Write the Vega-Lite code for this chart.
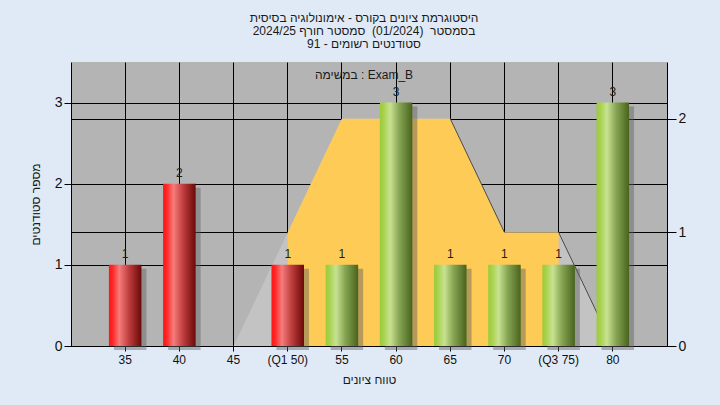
{
  "$schema": "https://vega.github.io/schema/vega-lite/v6.json",
  "width": 596,
  "height": 284,
  "autosize": {"type": "none"},
  "padding": {"left": 71, "top": 62, "right": 53, "bottom": 59},
  "background": "#E0EAF7",
  "title": {
    "text": ["היסטוגרמת ציונים בקורס - אימונולוגיה בסיסית", "בסמסטר\u00a0 (01/2024)\u00a0 סמסטר חורף 2024/25", "סטודנטים רשומים - 91"],
    "subtitle": "במשימה : Exam_B",
    "anchor": "middle",
    "frame": "group",
    "font": "Liberation Sans, DejaVu Sans",
    "fontSize": 12,
    "fontWeight": "normal",
    "lineHeight": 13,
    "color": "#1a1a1a",
    "subtitleFont": "Liberation Sans, DejaVu Sans",
    "subtitleFontSize": 12,
    "subtitleColor": "#1a1a1a",
    "subtitlePadding": 19,
    "offset": -20,
    "dx": -5
  },
  "datasets": {
    "bars": [
      {"label": "35", "count": 1, "grp": "fail"},
      {"label": "40", "count": 2, "grp": "fail"},
      {"label": "45", "count": 0, "grp": "none"},
      {"label": "(Q1 50)", "count": 1, "grp": "fail"},
      {"label": "55", "count": 1, "grp": "pass"},
      {"label": "60", "count": 3, "grp": "pass"},
      {"label": "65", "count": 1, "grp": "pass"},
      {"label": "70", "count": 1, "grp": "pass"},
      {"label": "(Q3 75)", "count": 1, "grp": "pass"},
      {"label": "80", "count": 3, "grp": "pass"}
    ],
    "dist": [
      {"label": "45", "v": 0, "iqr": false},
      {"label": "(Q1 50)", "v": 1, "iqr": true},
      {"label": "55", "v": 2, "iqr": true},
      {"label": "60", "v": 2, "iqr": true},
      {"label": "65", "v": 2, "iqr": true},
      {"label": "70", "v": 1, "iqr": true},
      {"label": "(Q3 75)", "v": 1, "iqr": true},
      {"label": "80", "v": 0, "iqr": false}
    ],
    "segs": [
      {"label": "65", "v": 2, "s": "a"},
      {"label": "70", "v": 1, "s": "a"},
      {"label": "(Q3 75)", "v": 1, "s": "b"},
      {"label": "80", "v": 0, "s": "b"}
    ]
  },
  "config": {
    "view": {"fill": "#B4B4B4", "stroke": null},
    "axis": {
      "grid": true,
      "gridColor": "#000000",
      "gridOpacity": 1,
      "gridWidth": 1,
      "domainColor": "#000000",
      "tickColor": "#000000",
      "labelColor": "#111111",
      "titleColor": "#1a1a1a",
      "labelFont": "Liberation Sans, DejaVu Sans",
      "titleFont": "Liberation Sans, DejaVu Sans",
      "titleFontWeight": "normal",
      "titleFontSize": 12
    }
  },
  "encoding": {
    "x": {
      "field": "label",
      "type": "nominal",
      "sort": null,
      "scale": {
        "type": "band",
        "domain": ["35", "40", "45", "(Q1 50)", "55", "60", "65", "70", "(Q3 75)", "80"],
        "paddingInner": 0.4,
        "paddingOuter": 0.7
      },
      "axis": {
        "title": "טווח ציונים",
        "labelAngle": 0,
        "labelFontSize": 12,
        "tickSize": 5,
        "labelPadding": 3,
        "titlePadding": 9,
        "bandPosition": 0.5
      }
    }
  },
  "layer": [
    {
      "encoding": {
        "y": {
          "field": "v",
          "type": "quantitative",
          "scale": {"domain": [0, 2.5], "nice": false, "zero": true},
          "axis": {
            "orient": "right",
            "title": null,
            "grid": true,
            "values": [0, 1, 2],
            "labelFontSize": 14,
            "tickSize": 9,
            "labelPadding": 2
          }
        }
      },
      "layer": [
        {
          "data": {"name": "dist"},
          "mark": {"type": "area", "color": "#C3C3C3", "opacity": 1},
          "encoding": {}
        },
        {
          "data": {"name": "dist"},
          "transform": [{"filter": "datum.iqr"}],
          "mark": {"type": "area", "color": "#FECB57", "opacity": 1},
          "encoding": {}
        },
        {
          "data": {"name": "segs"},
          "mark": {"type": "line", "color": "#4a4a4a", "strokeWidth": 1},
          "encoding": {"detail": {"field": "s"}}
        }
      ]
    },
    {
      "data": {"name": "bars"},
      "encoding": {
        "y": {
          "field": "count",
          "type": "quantitative",
          "scale": {"domain": [0, 3.5], "nice": false},
          "axis": {
            "orient": "left",
            "title": "מספר סטודנטים",
            "grid": true,
            "values": [0, 1, 2, 3],
            "labelFontSize": 14,
            "tickSize": 7,
            "labelPadding": 2,
            "titlePadding": 12
          }
        }
      },
      "layer": [
        {
          "transform": [{"filter": "datum.count > 0"}],
          "mark": {"type": "bar", "color": "#606060", "opacity": 0.45, "xOffset": 5, "yOffset": 4},
          "encoding": {}
        },
        {
          "transform": [{"filter": "datum.grp == 'fail'"}],
          "mark": {
            "type": "bar",
            "color": {
              "gradient": "linear",
              "x1": 0, "x2": 1, "y1": 0, "y2": 0,
              "stops": [
                {"offset": 0, "color": "#FF1414"},
                {"offset": 0.12, "color": "#FF2A2A"},
                {"offset": 0.32, "color": "#F57C7C"},
                {"offset": 0.6, "color": "#C24040"},
                {"offset": 1, "color": "#6A0808"}
              ]
            }
          },
          "encoding": {}
        },
        {
          "transform": [{"filter": "datum.grp == 'pass'"}],
          "mark": {
            "type": "bar",
            "color": {
              "gradient": "linear",
              "x1": 0, "x2": 1, "y1": 0, "y2": 0,
              "stops": [
                {"offset": 0, "color": "#9ACB3A"},
                {"offset": 0.12, "color": "#A8D24E"},
                {"offset": 0.32, "color": "#C8E292"},
                {"offset": 0.6, "color": "#86A553"},
                {"offset": 1, "color": "#48631C"}
              ]
            }
          },
          "encoding": {}
        },
        {
          "transform": [{"filter": "datum.count > 0"}],
          "mark": {"type": "text", "baseline": "bottom", "dy": -4, "font": "Liberation Sans, DejaVu Sans", "fontSize": 12, "color": "#1a1a1a"},
          "encoding": {"text": {"field": "count", "type": "quantitative"}}
        }
      ]
    }
  ],
  "resolve": {"scale": {"y": "independent"}, "axis": {"y": "independent"}}
}
